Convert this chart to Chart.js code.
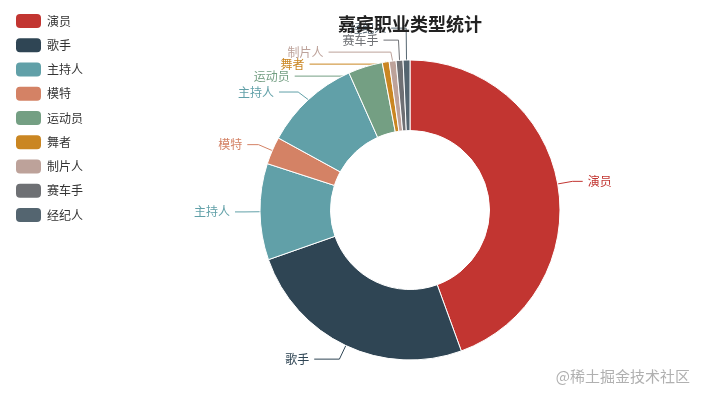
<!DOCTYPE html>
<html>
<head>
<meta charset="utf-8">
<script src="https://cdn.jsdelivr.net/npm/chart.js@4/dist/chart.umd.min.js"></script>
<style>
  html, body { margin: 0; padding: 0; background: #fff; }
  #wrap { width: 701px; height: 398px; }
</style>
</head>
<body>
<div id="wrap"><canvas id="jobs"></canvas></div>
<script>
const jobLabels = ['演员', '歌手', '主持人', '模特', '主持人', '运动员', '舞者', '制片人', '赛车手', '经纪人'];
const jobCounts = [60, 34, 14, 4, 14, 5, 1, 1, 1, 1];
const jobColors = ['#c23531', '#2f4554', '#61a0a8', '#d48265', '#61a0a8', '#749f83', '#ca8622', '#bda29a', '#6e7074', '#546570'];

Chart.defaults.font.family = '"Noto Sans CJK SC", "Noto Sans", sans-serif';

// echarts-like outside labels: push overlapping labels apart, then slide them along the ring
function layoutSide(list, cx, cy, r, dir, viewHeight) {
    list.sort((a, b) => a.y - b.y);

    function shiftUp(end, delta) {
        for (let j = end; j >= 0; j--) {
            list[j].y -= delta;
            if (j > 0 && list[j].y > list[j - 1].y + list[j - 1].height) break;
        }
    }
    function shiftDown(start, end, delta) {
        for (let j = start; j < end; j++) {
            list[j].y += delta;
            if (j > start && j + 1 < end && list[j + 1].y > list[j].y + list[j].height) {
                shiftUp(j, delta / 2);
                return;
            }
        }
        shiftUp(end - 1, delta / 2);
    }
    function changeX(items, isDown) {
        let last = isDown ? Infinity : 0;
        items.forEach(it => {
            const dy = Math.abs(it.y - cy);
            const reach = r + it.len;
            let dx = dy < reach
                ? Math.sqrt((reach + it.len2) * (reach + it.len2) - dy * dy)
                : Math.abs(it.x - cx);
            if (isDown && dx >= last) dx = last - 10;
            if (!isDown && dx <= last) dx = last + 10;
            it.x = cx + dx * dir;
            last = dx;
        });
    }

    let lastY = 0;
    for (let i = 0; i < list.length; i++) {
        const delta = list[i].y - lastY;
        if (delta < 0) shiftDown(i, list.length, -delta);
        lastY = list[i].y + list[i].height;
    }
    if (viewHeight - lastY < 0) shiftUp(list.length - 1, lastY - viewHeight);

    changeX(list.filter(it => it.y < cy), false);
    changeX(list.filter(it => it.y >= cy), true);
}

// empty box between legend and pie, pushes the pie to the right
const legendGap = {
    id: 'legendGap',
    beforeInit(chart) {
        Chart.layouts.addBox(chart, {
            position: 'left',
            weight: 0,
            fullSize: false,
            options: {},
            isHorizontal: () => false,
            update(maxWidth, maxHeight) {
                this.width = 26;
                this.height = maxHeight;
            },
            draw() {}
        });
    }
};

const pieLabels = {
    id: 'pieLabels',
    // drawn before the layout boxes so the title sits on top, like the original
    beforeDraw(chart) {
        const ctx = chart.ctx;
        const meta = chart.getDatasetMeta(0);
        const colors = chart.data.datasets[0].backgroundColor;
        const len = 15, len2 = 15, gap = 5;
        let cx = 0, cy = 0, r = 0;

        const items = meta.data.map((arc, i) => {
            const p = arc.getProps(['x', 'y', 'startAngle', 'endAngle', 'outerRadius'], true);
            cx = p.x; cy = p.y; r = p.outerRadius;
            const mid = (p.startAngle + p.endAngle) / 2;
            const cos = Math.cos(mid), sin = Math.sin(mid);
            const dir = cos < 0 ? -1 : 1;
            const x2 = cx + (r + len) * cos;
            const y2 = cy + (r + len) * sin;
            return {
                text: chart.data.labels[i],
                color: colors[i],
                dir, len, len2,
                height: 12,
                p1: [cx + r * cos, cy + r * sin],
                x2,
                x: x2 + dir * (len2 + gap),
                y: y2
            };
        });

        layoutSide(items.filter(it => it.x < cx), cx, cy, r, -1, chart.height);
        layoutSide(items.filter(it => it.x >= cx), cx, cy, r, 1, chart.height);

        ctx.save();
        ctx.font = '12px ' + Chart.defaults.font.family;
        ctx.lineWidth = 1;
        ctx.textBaseline = 'middle';
        items.forEach(it => {
            const left = it.x < cx;
            ctx.strokeStyle = it.color;
            ctx.beginPath();
            ctx.moveTo(it.p1[0], it.p1[1]);
            ctx.lineTo(it.x2, it.y);
            ctx.lineTo(left ? it.x + gap : it.x - gap, it.y);
            ctx.stroke();
            ctx.fillStyle = it.color;
            ctx.textAlign = left ? 'right' : 'left';
            ctx.fillText(it.text, it.x, it.y);
        });
        ctx.restore();
    },
    afterDraw(chart) {
        const ctx = chart.ctx;
        ctx.save();
        ctx.font = '15px ' + Chart.defaults.font.family;
        ctx.fillStyle = '#b0b0b0';
        ctx.textAlign = 'right';
        ctx.textBaseline = 'middle';
        ctx.fillText('@稀土掘金技术社区', 690, 376);
        ctx.restore();
    }
};

new Chart(document.getElementById('jobs'), {
    type: 'doughnut',
    data: {
        labels: jobLabels,
        datasets: [{
            data: jobCounts,
            backgroundColor: jobColors,
            borderColor: '#fff',
            borderWidth: 1
        }]
    },
    options: {
        responsive: true,
        maintainAspectRatio: false,
        animation: false,
        radius: 150,
        cutout: '53%',
        layout: {
            padding: { top: 3.75, left: 5.75, right: 0, bottom: 12.85 }
        },
        plugins: {
            tooltip: { enabled: false },
            title: {
                display: true,
                text: '嘉宾职业类型统计',
                color: '#222',
                fullSize: false,
                font: { size: 18, weight: 'bold' },
                padding: { top: 9.5, bottom: 0 }
            },
            legend: {
                position: 'left',
                align: 'start',
                labels: {
                    color: '#333',
                    font: { size: 12 },
                    boxWidth: 25,
                    boxHeight: 14,
                    padding: 10.25,
                    useBorderRadius: true,
                    borderRadius: 4,
                    generateLabels(chart) {
                        const items = Chart.overrides.doughnut.plugins.legend.labels.generateLabels(chart);
                        // same name shares one legend entry
                        return items
                            .filter(it => jobLabels.indexOf(it.text) === it.index)
                            .map(it => Object.assign(it, { lineWidth: 0 }));
                    }
                }
            }
        }
    },
    plugins: [legendGap, pieLabels]
});
</script>
</body>
</html>
